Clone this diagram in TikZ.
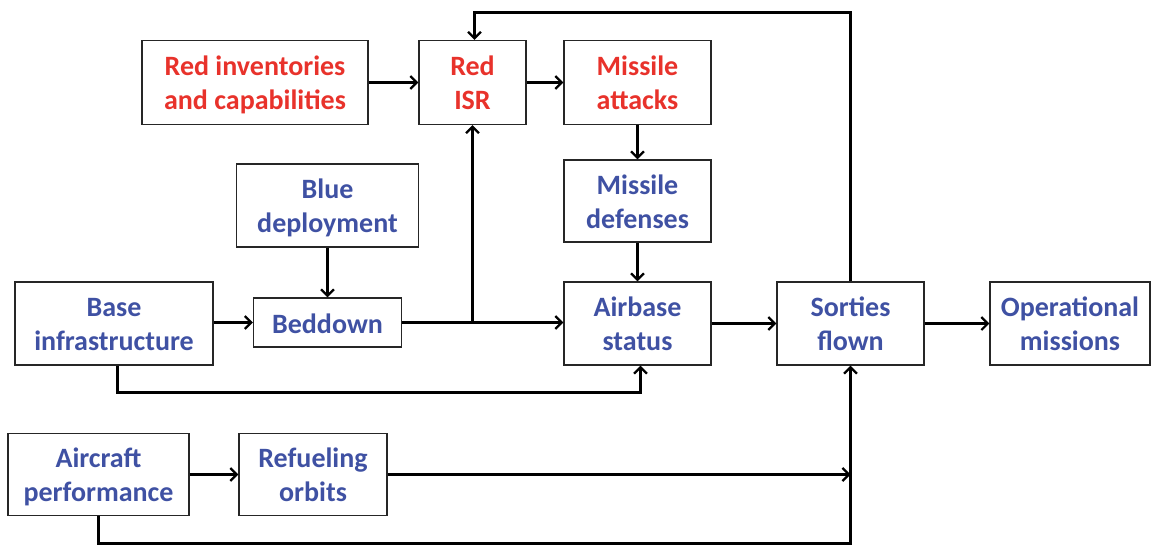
\documentclass[tikz,border=0pt]{standalone}
\usepackage{fontspec}
\setmainfont{Carlito}
\usetikzlibrary{arrows.meta}
\definecolor{redt}{RGB}{232,50,43}
\definecolor{bluet}{RGB}{63,81,163}
\begin{document}
\begin{tikzpicture}[x=1pt,y=-1pt,
  box/.style={draw=black!85,line width=1.3pt,rectangle,align=center,inner sep=0pt,
    text height=58pt,text depth=4pt,
    font=\fontsize{28}{34}\selectfont\bfseries},
  redbox/.style={box,text=redt},
  bluebox/.style={box,text=bluet},
  conn/.style={line width=2.5pt,-{Straight Barb[length=6.5pt,width=13pt,line width=2.2pt]}},
  plain/.style={line width=2.5pt}]
\useasboundingbox (0,0) rectangle (1152,546);
\node[redbox,minimum width=226pt,minimum height=84pt] (redinv) at (255,82.5) {Red inventories\\and capabilities};
\node[redbox,minimum width=107pt,minimum height=84pt] (redisr) at (472.5,82.5) {Red\\ISR};
\node[redbox,minimum width=147pt,minimum height=84pt] (matt) at (637.5,82.5) {Missile\\attacks};
\node[bluebox,minimum width=182pt,minimum height=83pt] (blue) at (327.5,205.5) {Blue\\deployment};
\node[bluebox,minimum width=147pt,minimum height=82pt] (mdef) at (637.5,201) {Missile\\defenses};
\node[bluebox,minimum width=198pt,minimum height=83pt] (base) at (114,323.5) {Base\\infrastructure};
\node[bluebox,minimum width=148pt,minimum height=49pt,text height=21pt,text depth=0pt] (bed) at (327.5,322.5) {Beddown};
\node[bluebox,minimum width=147pt,minimum height=83pt] (air) at (637.5,323.5) {Airbase\\status};
\node[bluebox,minimum width=147pt,minimum height=83pt] (sort) at (850.5,323.5) {Sorties\\flown};
\node[bluebox,minimum width=160pt,minimum height=83pt] (ops) at (1070,323.5) {Operational\\missions};
\node[bluebox,minimum width=181pt,minimum height=82pt] (acp) at (98.5,474.5) {Aircraft\\performance};
\node[bluebox,minimum width=148pt,minimum height=82pt] (ref) at (313,474.5) {Refueling\\orbits};

\coordinate (jn) at (472.5,322.5);
\coordinate (rf) at (850.5,474.5);
\coordinate (top) at (850.5,12.5);
\coordinate (bot) at (850.5,543.5);
\coordinate (mid) at (640.5,392.5);

\draw[conn] (redinv) -- (redisr);
\draw[conn] (redisr) -- (matt);
\draw[conn] (matt) -- (mdef);
\draw[conn] (mdef) -- (air);
\draw[conn] (blue) -- (bed);
\draw[conn] (base.east |- bed) -- (bed.west);
\draw[plain] (bed.east) -- (jn);
\draw[conn] (jn) -- (air.west |- jn);
\draw[conn] (jn) -- (jn |- redisr.south);
\draw[conn] (air) -- (sort);
\draw[conn] (sort) -- (ops);
\draw[conn] (sort.north) -- (top) -| ([xshift=2pt]redisr.north);
\draw[conn] ([xshift=3.5pt]base.south) |- (mid) -- (mid |- air.south);
\draw[conn] (acp) -- (ref);
\draw[conn] (ref) -- (rf);
\draw[conn] (acp.south) |- (bot) -- (sort.south);
\end{tikzpicture}
\end{document}
